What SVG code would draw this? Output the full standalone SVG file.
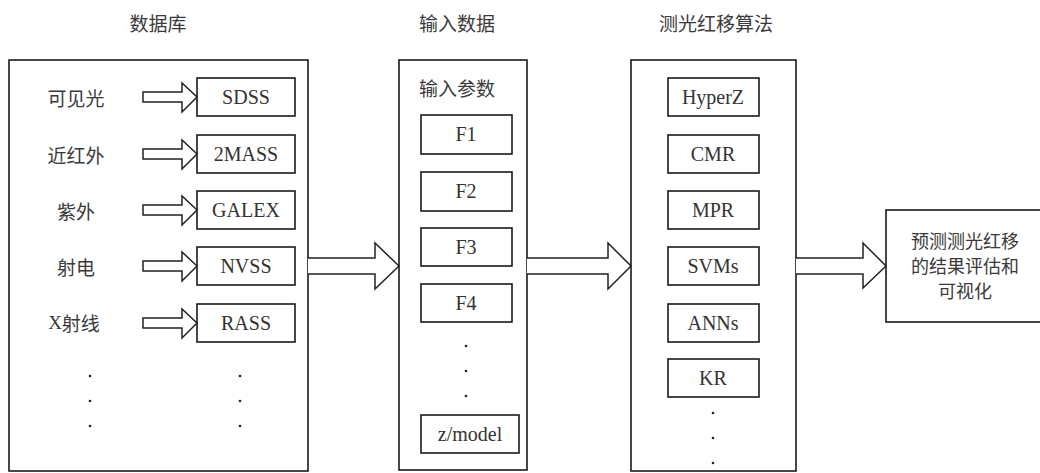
<svg xmlns="http://www.w3.org/2000/svg" width="1040" height="473" viewBox="0 0 1040 473">
<style>
.box{fill:#fff;stroke:#1a1a1a;stroke-width:1.6}
.arr{fill:#fff;stroke:#222;stroke-width:1.5;stroke-linejoin:miter}
.zh{font-family:"Noto Sans CJK SC","Noto Sans CJK JP",sans-serif;font-size:19px;fill:#3a3a3a;text-anchor:middle;dominant-baseline:central}
.en{font-size:20px;fill:#333;text-anchor:middle;dominant-baseline:central}
.dot{fill:#222}
</style>
<rect width="1040" height="473" fill="#fff"/>
<g id="titles">
<text class="zh" x="158" y="22">数据库</text>
<text class="zh" x="457" y="22">输入数据</text>
<text class="zh" x="716" y="22">测光红移算法</text>
</g>
<g id="database" font-family="Liberation Serif, DejaVu Serif, serif">
<rect class="box" x="9" y="60" width="299" height="411"/>
<text class="zh" x="76" y="97">可见光</text>
<text class="zh" x="76" y="154">近红外</text>
<text class="zh" x="76" y="210">紫外</text>
<text class="zh" x="76" y="266">射电</text>
<text class="zh" x="74" y="322"><tspan style="font-family:'Liberation Serif',serif">X</tspan>射线</text>
<rect class="box" x="197" y="78" width="98" height="38"/>
<text class="en" x="246" y="97">SDSS</text>
<rect class="box" x="197" y="135" width="98" height="38"/>
<text class="en" x="246" y="154">2MASS</text>
<rect class="box" x="197" y="191" width="98" height="38"/>
<text class="en" x="246" y="210">GALEX</text>
<rect class="box" x="197" y="247" width="98" height="38"/>
<text class="en" x="246" y="266">NVSS</text>
<rect class="box" x="197" y="304" width="98" height="38"/>
<text class="en" x="246" y="323">RASS</text>
<circle class="dot" cx="90" cy="376" r="1.3"/><circle class="dot" cx="90" cy="401" r="1.3"/><circle class="dot" cx="90" cy="426" r="1.3"/>
<circle class="dot" cx="240" cy="376" r="1.3"/><circle class="dot" cx="240" cy="401" r="1.3"/><circle class="dot" cx="240" cy="426" r="1.3"/>
</g>
<g id="input" font-family="Liberation Serif, DejaVu Serif, serif">
<rect class="box" x="399" y="60" width="128" height="410"/>
<text class="zh" x="457" y="87">输入参数</text>
<rect class="box" x="421" y="115" width="91" height="39"/>
<text class="en" x="466" y="134">F1</text>
<rect class="box" x="421" y="172" width="91" height="39"/>
<text class="en" x="466" y="191">F2</text>
<rect class="box" x="421" y="228" width="91" height="38"/>
<text class="en" x="466" y="247">F3</text>
<rect class="box" x="421" y="284" width="91" height="38"/>
<text class="en" x="466" y="303">F4</text>
<circle class="dot" cx="466" cy="346" r="1.3"/><circle class="dot" cx="466" cy="371" r="1.3"/><circle class="dot" cx="466" cy="396" r="1.3"/>
<rect class="box" x="421" y="415" width="98" height="38"/>
<text class="en" x="470" y="434">z/model</text>
</g>
<g id="algorithms" font-family="Liberation Serif, DejaVu Serif, serif">
<rect class="box" x="631" y="60" width="165" height="411"/>
<rect class="box" x="668" y="78" width="91" height="38"/>
<text class="en" x="713" y="97">HyperZ</text>
<rect class="box" x="668" y="135" width="91" height="38"/>
<text class="en" x="713" y="154">CMR</text>
<rect class="box" x="668" y="191" width="91" height="38"/>
<text class="en" x="713" y="210">MPR</text>
<rect class="box" x="668" y="247" width="91" height="38"/>
<text class="en" x="713" y="266">SVMs</text>
<rect class="box" x="668" y="304" width="91" height="38"/>
<text class="en" x="713" y="323">ANNs</text>
<rect class="box" x="668" y="359" width="91" height="38"/>
<text class="en" x="713" y="378">KR</text>
<circle class="dot" cx="713" cy="413" r="1.3"/><circle class="dot" cx="713" cy="438" r="1.3"/><circle class="dot" cx="713" cy="463" r="1.3"/>
</g>
<g id="result">
<rect class="box" x="886" y="210" width="170" height="112"/>
<text class="zh" x="965" y="240" style="font-size:18px">预测测光红移</text>
<text class="zh" x="965" y="265" style="font-size:18px">的结果评估和</text>
<text class="zh" x="965" y="290" style="font-size:18px">可视化</text>
</g>
<g id="connectors">
<polygon class="arr" points="143,92 182,92 182,83 197,97 182,112 182,102 143,102"/>
<polygon class="arr" points="143,149 182,149 182,140 197,154 182,169 182,159 143,159"/>
<polygon class="arr" points="143,205 182,205 182,196 197,210 182,225 182,215 143,215"/>
<polygon class="arr" points="143,261 182,261 182,252 197,266 182,281 182,271 143,271"/>
<polygon class="arr" points="143,318 182,318 182,309 197,323 182,338 182,328 143,328"/>
<path class="arr" d="M308,258 H375 V243 L399,266 L375,289 V274 H308"/>
<path class="arr" d="M527,258 H608 V243 L631,266 L608,289 V274 H527"/>
<path class="arr" d="M796,258 H863 V243 L886,266 L863,288 V274 H796"/>
</g>
</svg>
